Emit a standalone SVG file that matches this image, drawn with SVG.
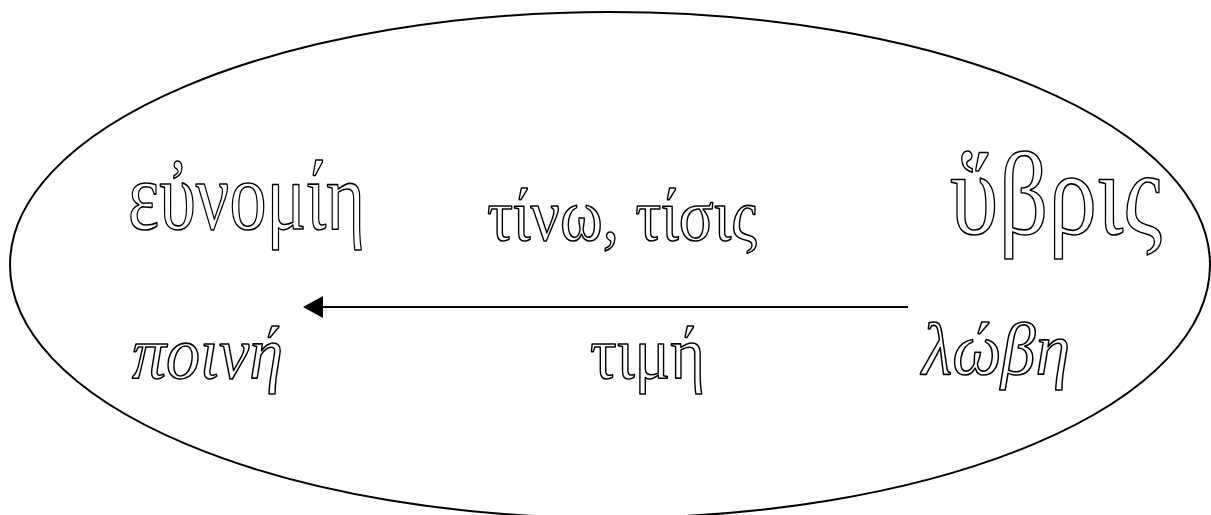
<svg xmlns="http://www.w3.org/2000/svg" width="1211" height="515" viewBox="0 0 1211 515">
<defs>
<style>
.t{font-family:"Liberation Serif","DejaVu Serif",serif;fill:#fff;stroke:#000;stroke-width:1.6;stroke-linejoin:round}
.big{font-size:98px}
.huge{font-size:118px}
.mid{font-size:74px}
.it{font-style:italic}
</style>
<marker id="ah" viewBox="0 0 20 22" refX="0" refY="11" markerWidth="20" markerHeight="22" markerUnits="userSpaceOnUse" orient="auto-start-reverse">
<path d="M0,0 L20,11 L0,22 Z" fill="#000"/>
</marker>
</defs>
<rect width="1211" height="515" fill="#fff"/>
<g id="frame"><ellipse cx="610" cy="265" rx="600" ry="253" fill="none" stroke="#000" stroke-width="2"/></g>
<g id="connectors">
<line x1="908" y1="307" x2="323" y2="307" stroke="#000" stroke-width="2" marker-end="url(#ah)"/>
</g>
<g id="eunomie"><text class="t big" x="128" y="229" textLength="237" lengthAdjust="spacingAndGlyphs">εὐνομίη</text></g>
<g id="tino"><text class="t mid" x="487" y="240" textLength="270" lengthAdjust="spacingAndGlyphs">τίνω, τίσις</text></g>
<g id="hybris"><text class="t huge" x="950" y="234" textLength="212" lengthAdjust="spacingAndGlyphs">ὕβρις</text></g>
<g id="poine"><text class="t mid it" x="132" y="378" textLength="151" lengthAdjust="spacingAndGlyphs">ποινή</text></g>
<g id="time"><text class="t mid" x="590" y="378" textLength="115" lengthAdjust="spacingAndGlyphs">τιμή</text></g>
<g id="lobe"><text class="t mid it" x="922" y="374" textLength="148" lengthAdjust="spacingAndGlyphs">λώβη</text></g>
</svg>
